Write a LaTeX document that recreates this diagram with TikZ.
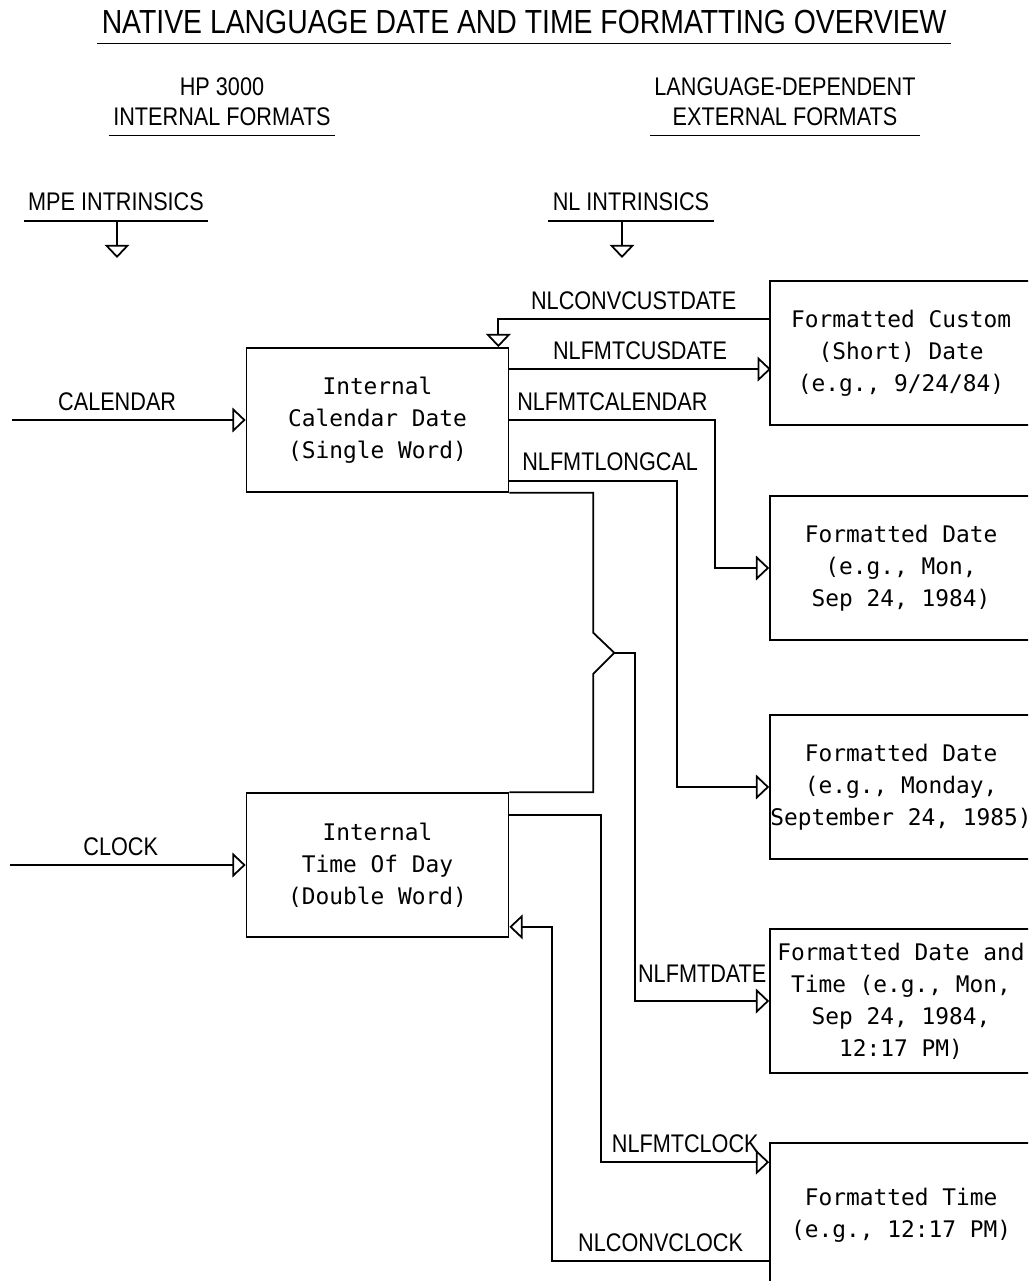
\documentclass[tikz,border=0pt]{standalone}
\usepackage{fontspec}
\setmainfont{Liberation Sans}[FakeStretch=0.85]
\newfontfamily\boxfont{DejaVu Sans Mono}
\usetikzlibrary{arrows.meta,calc}

\begin{document}
\begin{tikzpicture}[x=0.02cm,y=-0.02cm,line width=1pt,
	flow/.style={-{Triangle[open,length=7.5pt,width=14pt]}},
	lbl/.style={font=\fontsize{14.5}{17}\selectfont,inner sep=2pt,above=3pt},
	hdg/.style={font=\fontsize{14.5}{17}\selectfont,align=center,inner xsep=2pt,inner ysep=5pt}]
	\useasboundingbox (0,0) rectangle (1028,1281);
	\clip (0,0) rectangle (1028,1281);

	\node[hdg,font=\fontsize{19}{22}\selectfont] (T) at (524,22) {NATIVE LANGUAGE DATE AND TIME FORMATTING OVERVIEW};
	\node[hdg] (HP) at (222,102) {HP 3000\\INTERNAL FORMATS};
	\node[hdg] (LD) at (785,102) {LANGUAGE-DEPENDENT\\EXTERNAL FORMATS};
	\node[hdg] (MPE) at (116,202) {MPE INTRINSICS};
	\node[hdg] (NLI) at (631,202) {NL INTRINSICS};
	\draw (T.south west) -- (T.south east);
	\draw (HP.south west) -- (HP.south east);
	\draw (LD.south west) -- (LD.south east);
	\draw (MPE.south west) -- (MPE.south east);
	\draw (NLI.south west) -- (NLI.south east);

	\begin{scope}[every node/.style={draw,inner sep=0pt,minimum width=5.24cm,
		minimum height=2.88cm,align=center,font=\boxfont\fontsize{13}{18.2}\selectfont}]
	\node (CAL) at (377.5,420) {Internal\\Calendar Date\\(Single Word)};
	\node (TOD) at (377.5,865) {Internal\\Time Of Day\\(Double Word)};
	\node (CUS) at (901,353) {Formatted Custom\\(Short) Date\\(e.g., 9/24/84)};
	\node (DAT) at (901,568) {Formatted Date\\(e.g., Mon,\\Sep 24, 1984)};
	\node (LNG) at (901,787) {Formatted Date\\(e.g., Monday,\\September 24, 1985)};
	\node (DT) at (901,1001) {Formatted Date and\\Time (e.g., Mon,\\Sep 24, 1984,\\12:17 PM)};
	\node (TIM) at (901,1215) {Formatted Time\\(e.g., 12:17 PM)};
	\end{scope}

	\coordinate (mpeT) at (117,258);
	\coordinate (nlT) at (622,258);
	\coordinate (calS) at (12,420);
	\coordinate (clkS) at (10,865);

	\draw[flow] (mpeT |- MPE.south) -- (mpeT);
	\draw[flow] (nlT |- NLI.south) -- (nlT);
	\draw[flow] (calS) -- (CAL.west) node[lbl,pos=0.45] {CALENDAR};
	\draw[flow] (clkS) -- (TOD.west) node[lbl,pos=0.47] {CLOCK};

	\draw[flow] ($(CUS.north west)+(0,39)$) -| ($(CAL.north east)+(-11,0)$) node[lbl,pos=0.25] {NLCONVCUSTDATE};
	\draw[flow] ($(CAL.north east)+(0,22)$) -- ++(261.5,0) node[lbl,midway] {NLFMTCUSDATE};
	\draw[flow] (CAL.east) -- ++(206,0) node[lbl,midway] {NLFMTCALENDAR} |- (DAT.west);
	\draw[flow] ($(CAL.south east)+(0,-12)$) -- ++(168,0) node[lbl,pos=0.6] {NLFMTLONGCAL} |- (LNG.west);
	\draw (CAL.south east) -- ++(84,0) -- ++(0,140) -- ++(21,20) coordinate (J) -- ++(-21,21) |- (TOD.north east);
	\draw[flow] (J) -- ++(21,0) |- (DT.west) node[lbl,pos=0.75,above=5pt] {NLFMTDATE};
	\draw[flow] ($(TOD.north east)+(0,23)$) -- ++(92,0) |- ($(TIM.north west)+(0,20)$) node[lbl,pos=0.75] {NLFMTCLOCK};
	\draw[flow] ($(TIM.north west)+(0,119)$) -- ++(-217,0) node[lbl,midway] {NLCONVCLOCK} |- ($(TOD.south east)+(0,-11)$);
\end{tikzpicture}
\end{document}
